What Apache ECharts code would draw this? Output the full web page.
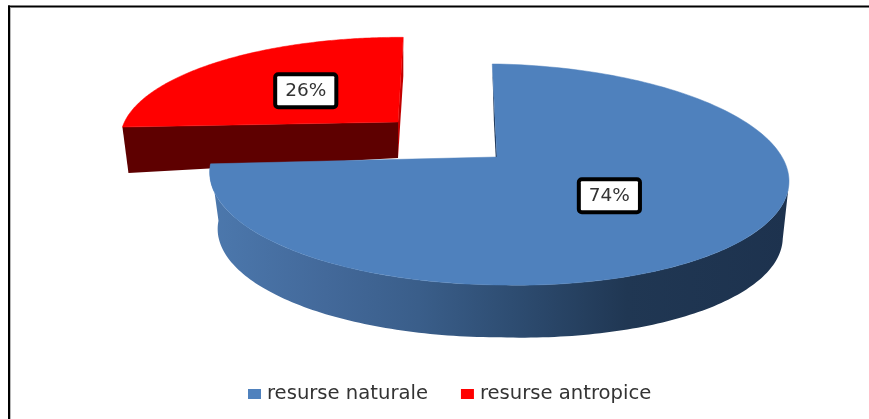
<!DOCTYPE html>
<html>
<head>
<meta charset="utf-8">
<style>html,body{margin:0;padding:0;background:#fff}#c{width:869px;height:419px}</style>
<script src="https://cdn.jsdelivr.net/npm/echarts@6/dist/echarts.min.js"></script>
</head>
<body>
<div id="c"></div>
<script>
const categories = ['resurse naturale', 'resurse antropice'];
const shares = [74, 26];
const faceColors = ['#4f81bd', '#ff0000'];

const total = shares.reduce((a, b) => a + b, 0);
const startAngle = -1.1;
const FONT = '"DejaVu Sans"';

// perspective projection of the unit disc: top face and lower rim of each slice
const views = [
  {
    top: {cx: 497, cy: 157, kx: 286, ky: 107.7, p: 0.158, q: 0.008, sx: 0, sy: 2, syR: 6.5},
    bot: {cx: 498.5, cy: 212, kx: 279, ky: 105.5, p: 0.158, q: 0.006, sx: 0, sy: 0, syR: 8},
    label: [0, -2]
  },
  {
    top: {cx: 398, cy: 122, kx: 272, ky: 98, p: 0.158, q: 0, sx: -11.3, sy: 3, syR: 3},
    bot: {cx: 398, cy: 158, kx: 266, ky: 96, p: 0.158, q: 0, sx: -11.3, sy: -7, syR: -7},
    label: [0, 1]
  }
];

function proj(v, deg, r) {
  const a = deg * Math.PI / 180;
  const X = Math.sin(a) * r, Y = -Math.cos(a) * r;
  const w = 1 - v.p * Y - v.q * X;
  const s = X > 0 ? v.syR : v.sy;
  return [v.cx + (v.kx * X + v.sx * Y) / w, v.cy + (v.ky * Y + s * X) / w];
}
function arc(v, a0, a1) {
  const pts = [], n = 160;
  for (let i = 0; i <= n; i++) pts.push(proj(v, a0 + (a1 - a0) * i / n, 1));
  return pts;
}
function sliceRange(idx) {
  let a = startAngle;
  for (let i = 0; i < idx; i++) a += shares[i] / total * 360;
  return [a, a + shares[idx] / total * 360];
}
const poly = (points, fill, stroke) => ({
  type: 'polygon', shape: {points},
  style: {fill, stroke: stroke || null, lineWidth: stroke ? 0.5 : 0}
});

const wallGradient = {
  type: 'linear', x: 0, y: 0, x2: 1, y2: 0,
  colorStops: [
    {offset: 0, color: '#4c78ad'},
    {offset: 0.2, color: '#43699a'},
    {offset: 0.36, color: '#3a5e8a'},
    {offset: 0.52, color: '#2e4d72'},
    {offset: 0.72, color: '#203753'},
    {offset: 1, color: '#1d324e'}
  ]
};

function renderSlice(params, api) {
  const i = params.seriesIndex;
  const v = views[i];
  const [a0, a1] = sliceRange(i);
  const A = proj(v.top, 0, 0), Ab = proj(v.bot, 0, 0);
  const kids = [];
  if (i === 0) {
    // cut wall at the slice start, then the outer rim wall
    kids.push(poly([proj(v.top, a0, 1), proj(v.bot, a0, 1), Ab, A], '#1c3353'));
    const rimTop = arc(v.top, 100, a1), rimBot = arc(v.bot, 100, a1).reverse();
    kids.push(poly(rimTop.concat(rimBot), wallGradient));
  } else {
    // both cut walls of the slice
    kids.push(poly([proj(v.top, a1, 1), proj(v.bot, a1, 1), Ab, A], '#c00000'));
    kids.push(poly([proj(v.top, a0, 1), proj(v.bot, a0, 1), Ab, A], '#5e0000'));
  }
  kids.push(poly([A].concat(arc(v.top, a0, a1)), faceColors[i], faceColors[i]));
  const L = proj(v.top, (a0 + a1) / 2, 0.5);
  kids.push({
    type: 'text', x: L[0] + v.label[0], y: L[1] + v.label[1], z2: 10,
    style: {
      text: api.value(0) + '%',
      font: '18.5px ' + FONT, fill: '#333333',
      align: 'center', verticalAlign: 'middle',
      backgroundColor: '#fff', borderColor: '#000', borderWidth: 4, borderRadius: 1,
      padding: [5, 8]
    }
  });
  return {type: 'group', children: kids};
}

const chart = echarts.init(document.getElementById('c'), null, {renderer: 'canvas'});
chart.setOption({
  animation: false,
  backgroundColor: '#fff',
  legend: {
    data: categories,
    left: 243, top: 379,
    icon: 'rect', itemWidth: 13, itemHeight: 10, itemGap: 33,
    textStyle: {fontFamily: FONT, fontSize: 19.6, color: '#333333', padding: [0, 0, 0, 1]}
  },
  graphic: [
    {type: 'rect', shape: {x: 8, y: 5.5, width: 861, height: 2}, style: {fill: '#000'}},
    {type: 'rect', shape: {x: 8, y: 5.5, width: 2, height: 414}, style: {fill: '#000'}},
    {type: 'rect', shape: {x: 10, y: 7.5, width: 1, height: 412}, style: {fill: '#b8b8b8'}}
  ],
  series: categories.map((name, i) => ({
    type: 'custom', name, coordinateSystem: 'none',
    z: i === 0 ? 3 : 2,
    itemStyle: {color: faceColors[i]},
    data: [[shares[i]]],
    renderItem: renderSlice
  }))
});
</script>
</body>
</html>
